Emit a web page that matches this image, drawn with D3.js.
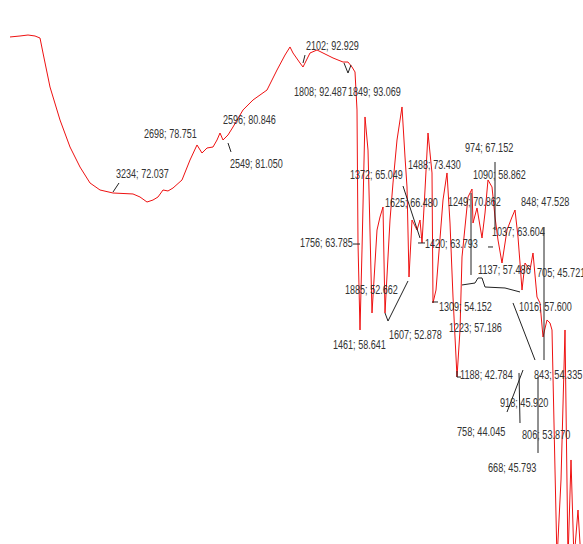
<!DOCTYPE html>
<html>
<head>
<meta charset="utf-8">
<script src="https://cdn.jsdelivr.net/npm/d3@7"></script>
<style>
  html, body { margin: 0; padding: 0; background: #fff; overflow: hidden; }
  svg { display: block; }
</style>
</head>
<body>
<svg id="chart" width="583" height="544"></svg>
<script>
// ---- Spectrum data (wavenumber, cm-1 / transmittance, %) ----
const wavenumbers = [
  3856, 3796, 3748, 3706, 3676, 3658, 3616, 3556, 3496, 3436, 3376, 3316, 3238, 3118, 3076, 3034,
  2998, 2968, 2938, 2908, 2878, 2824, 2776, 2734, 2704, 2674, 2638, 2614, 2596, 2578, 2548, 2518,
  2458, 2398, 2314, 2254, 2206, 2176, 2158, 2116, 2098, 2056, 2014, 1978, 1918, 1858, 1828, 1804,
  1786, 1774, 1768, 1756, 1744, 1726, 1708, 1684, 1654, 1636, 1618, 1606, 1576, 1558, 1534, 1504,
  1486, 1474, 1462, 1444, 1414, 1396, 1384, 1366, 1348, 1324, 1318, 1300, 1258, 1234, 1216, 1198,
  1174, 1156, 1144, 1108, 1084, 1078, 1054, 1024, 1006, 988, 964, 946, 928, 904, 874, 844,
  826, 808, 796, 784, 766, 736, 718, 694, 676, 658, 634, 616, 604, 586, 574, 550,
  526, 508, 490, 472, 448, 430
];
const transmittance = [
  94.29, 94.43, 94.57, 94.43, 94.14, 92.0, 87.14, 82.43, 78.57, 75.71, 73.43, 72.43, 72.0, 71.86, 71.43, 70.71,
  71.0, 71.43, 72.43, 72.29, 72.71, 73.86, 76.71, 78.86, 77.71, 78.43, 78.57, 79.57, 80.57, 79.57, 80.29, 81.43,
  83.86, 85.29, 86.71, 89.57, 91.71, 92.86, 92.0, 90.57, 90.0, 92.0, 92.43, 92.0, 91.29, 90.71, 90.71, 90.0,
  89.29, 83.86, 64.86, 52.43, 63.86, 82.86, 78.14, 54.86, 66.71, 68.57, 70.0, 54.86, 68.14, 73.43, 79.57, 84.29,
  77.14, 72.86, 60.0, 68.14, 66.71, 68.14, 64.86, 72.43, 80.57, 74.86, 56.29, 58.14, 71.0, 74.86, 67.71, 57.14,
  45.71, 52.43, 62.86, 71.43, 72.57, 67.71, 69.86, 65.57, 69.14, 73.86, 72.86, 68.57, 65.29, 62.0, 66.71, 68.57,
  69.57, 65.71, 62.0, 58.14, 62.0, 61.0, 63.43, 57.14, 56.29, 51.43, 53.86, 53.43, 52.43, 32.43, 19.57, 31.0,
  52.43, 19.57, 33.86, 19.57, 26.71, 19.57
];

// ---- Peak annotations ----
const peakLabels = [
  "3234; 72.037", "2698; 78.751", "2596; 80.846", "2549; 81.050", "2102; 92.929",
  "1808; 92.487", "1849; 93.069", "1372; 65.049", "1488; 73.430", "974; 67.152",
  "1090; 58.862", "1249; 70.862", "1625; 66.480", "848; 47.528", "1756; 63.785",
  "1420; 63.793", "1037; 63.604", "1137; 57.486", "705; 45.721", "1885; 52.662",
  "1309; 54.152", "1016; 57.600", "1607; 52.878", "1223; 57.186", "1461; 58.641",
  "1188; 42.784", "843; 54.335", "918; 45.920", "758; 44.045", "806; 53.870",
  "668; 45.793"
];
// label anchors, in data units (wavenumber, transmittance)
const labelWavenumber = [
  3220, 3052, 2578, 2536, 2080, 2152, 1828, 1816, 1468, 1126,
  1078, 1228, 1606, 790, 2116, 1366, 964, 1048, 694, 1846,
  1282, 802, 1582, 1222, 1918, 1156, 712, 916, 1174, 784,
  988
];
const labelTransmittance = [
  74.14, 79.86, 81.86, 75.57, 92.43, 85.86, 85.86, 74.0, 75.43, 77.86,
  74.0, 70.14, 70.0, 70.14, 64.29, 64.14, 65.86, 60.43, 60.0, 57.57,
  55.14, 55.14, 51.14, 52.14, 49.71, 45.43, 45.43, 41.43, 37.29, 36.86,
  32.14
];
// leader lines, in data units: [[wavenumber, transmittance], ...]
const leaders = [
  [[3202, 73.43], [3238, 72.14]],
  [[2548, 79.14], [2530, 77.86]],
  [[2086, 91.71], [2098, 90.57]],
  [[1852, 90.57], [1828, 89.14], [1810, 90.29]],
  [[1498, 73.0], [1396, 65.57]],
  [[1408, 64.86], [1366, 64.86]],
  [[1798, 64.71], [1756, 64.71]],
  [[1606, 54.86], [1588, 53.71], [1468, 59.43]],
  [[1324, 56.43], [1288, 56.43]],
  [[1174, 46.57], [1174, 45.71], [1150, 45.71]],
  [[1090, 72.0], [1090, 60.29]],
  [[946, 76.43], [946, 66.71]],
  [[1144, 58.86], [1066, 59.14], [1048, 59.86], [1024, 59.86], [1006, 58.57], [886, 58.43], [796, 57.86]],
  [[838, 56.29], [706, 48.14]],
  [[874, 40.71], [778, 46.71]],
  [[802, 46.29], [796, 39.14]],
  [[688, 45.71], [688, 34.86]],
  [[652, 67.14], [652, 48.14]],
  [[988, 64.29], [958, 64.29]]
];

// ---- Drawing ----
const W = 583, H = 544;
const svg = d3.select("#chart");

const x = d3.scaleLinear().domain([4000, 400]).range([-14, 586]);
const y = d3.scaleLinear().domain([20, 100]).range([557, -3]);

const points = wavenumbers.map((w, i) => [w, transmittance[i]]);

const line = d3.line().x(d => x(d[0])).y(d => y(d[1]));

svg.append("path")
  .datum(points)
  .attr("fill", "none")
  .attr("stroke", "#ee1111")
  .attr("stroke-width", 1)
  .attr("stroke-linejoin", "round")
  .attr("d", line);

svg.append("g")
  .selectAll("path")
  .data(leaders)
  .join("path")
  .attr("fill", "none")
  .attr("stroke", "#222")
  .attr("stroke-width", 1)
  .attr("d", line);

svg.append("g")
  .selectAll("text")
  .data(peakLabels)
  .join("text")
  .attr("x", (d, i) => x(labelWavenumber[i]))
  .attr("y", (d, i) => y(labelTransmittance[i]))
  .attr("font-family", "'Liberation Sans', Arial, sans-serif")
  .attr("font-size", 12)
  .attr("fill", "#333")
  .attr("textLength", d => d.length * 4.4)
  .attr("lengthAdjust", "spacingAndGlyphs")
  .text(d => d);
</script>
</body>
</html>
